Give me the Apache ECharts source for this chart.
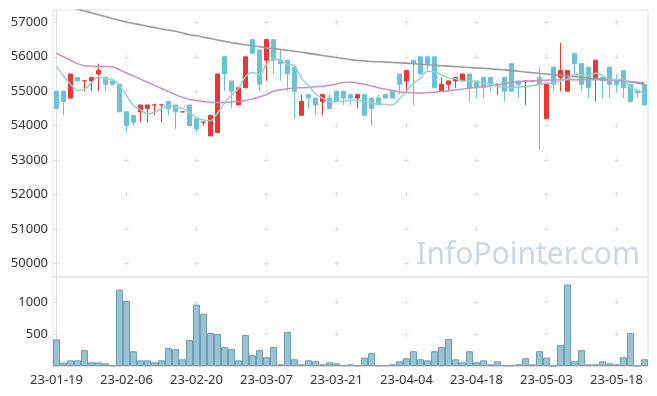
<!DOCTYPE html>
<html><head><meta charset="utf-8">
<script src="https://cdn.jsdelivr.net/npm/echarts@6/dist/echarts.min.js"></script>
<style>html,body{margin:0;padding:0;background:#fff}#c{width:657px;height:396px}</style>
</head><body><div id="c"></div><script>
const dates = ['23-01-19','23-01-20','23-01-25','23-01-26','23-01-27','23-01-30','23-01-31','23-02-01','23-02-02','23-02-03',
'23-02-06','23-02-07','23-02-08','23-02-09','23-02-10','23-02-13','23-02-14','23-02-15','23-02-16','23-02-17',
'23-02-20','23-02-21','23-02-22','23-02-23','23-02-24','23-02-27','23-02-28','23-03-02','23-03-03','23-03-06',
'23-03-07','23-03-08','23-03-09','23-03-10','23-03-13','23-03-14','23-03-15','23-03-16','23-03-17','23-03-20',
'23-03-21','23-03-22','23-03-23','23-03-24','23-03-27','23-03-28','23-03-29','23-03-30','23-03-31','23-04-03',
'23-04-04','23-04-05','23-04-06','23-04-07','23-04-10','23-04-11','23-04-12','23-04-13','23-04-14','23-04-17',
'23-04-18','23-04-19','23-04-20','23-04-21','23-04-24','23-04-25','23-04-26','23-04-27','23-04-28','23-05-02',
'23-05-03','23-05-04','23-05-08','23-05-09','23-05-10','23-05-11','23-05-12','23-05-15','23-05-16','23-05-17',
'23-05-18','23-05-19','23-05-22','23-05-23','23-05-24'];
const opens = [55000,55000,54800,55400,55300,55300,55500,55400,55300,55200,
54400,54300,54400,54500,54600,54600,54700,54600,54400,54600,
54200,54100,53700,53800,56000,55300,54600,55100,56500,56200,
55900,56500,55900,55900,55700,54300,54900,54800,54700,54800,
55000,55000,54900,54800,54900,54800,54800,54900,55000,55500,
55300,55900,56000,56000,56000,55000,55200,55300,55300,55500,
55300,55400,55400,55200,55400,55800,55300,55300,55300,55400,
54200,55700,55400,55000,56100,55800,55700,55400,55400,55700,
55300,55600,55200,55000,55200];
const closes = [54500,54700,55500,55300,55300,55400,55600,55200,55200,54400,
54000,54100,54600,54600,54600,54600,54500,54400,54400,54000,
53900,54100,54300,55500,55500,55000,55100,56000,56100,55200,
56500,55900,55800,55500,55000,54700,54800,54600,54900,54500,
54700,54800,54800,54900,54300,54500,54600,54800,54800,55200,
55600,55800,55500,55800,55100,55200,55300,55400,55500,55100,
55100,55100,55200,55200,55000,55000,55200,55300,55300,55200,
55200,55200,55600,55600,55800,55200,55100,55900,55300,55200,
55200,55100,54700,54950,54600];
const lows = [54500,54300,54800,55300,55000,55000,55000,55000,55200,54400,
53800,54000,54100,54100,54300,54100,54300,53900,54400,54000,
53800,54000,53700,53800,55000,54500,54600,55100,56100,55000,
55300,55500,55300,55000,54200,54300,54500,54300,54300,54500,
54700,54600,54600,54500,54300,54000,54600,54800,54800,54900,
55000,54600,55500,55600,55100,55000,55000,55100,55300,54700,
54800,54800,55000,54900,54700,55000,54800,54600,55300,53300,
54200,55000,55000,55000,55500,55000,54800,54700,54800,54800,
55000,54800,54700,54800,54600];
const highs = [55000,55000,55500,55400,55300,55400,55800,55400,55300,55200,
54400,54300,54600,54600,54600,54600,54700,54600,54400,54600,
54200,54100,54300,55500,56000,55300,55100,56000,56500,56200,
56500,56500,56200,55900,55700,54900,54900,54800,54900,54900,
55000,55000,54900,54900,54900,54800,54900,54900,55000,55500,
55600,55900,56000,56000,56000,55400,55300,55400,55500,55500,
55300,55400,55400,55200,55400,55800,55300,55300,55300,55700,
55200,55700,56400,55600,56100,55800,55700,55900,55400,55700,
55500,55600,55200,55000,55200];
const volumes = [416,53,89,89,247,58,58,42,10,1194,
1015,231,89,89,58,89,279,263,105,405,
957,815,515,500,295,263,89,484,168,247,
137,295,26,531,105,26,89,74,26,58,
42,10,26,10,131,200,10,10,26,74,
121,231,105,89,231,295,421,105,58,231,
58,89,26,74,10,10,26,121,26,231,
131,5,326,1273,74,247,26,26,74,42,
26,137,515,3,105];
const ma5 = [55720,55450,55200,55020,55060,55240,55420,55360,55340,55160,
54880,54580,54460,54340,54380,54500,54580,54540,54500,54380,
54240,54160,54140,54360,54660,54880,55080,55420,55540,55480,
55780,55940,55900,55780,55740,55380,55160,54920,54800,54700,
54700,54700,54740,54740,54700,54660,54620,54620,54600,54780,
55000,55240,55380,55580,55560,55480,55380,55360,55300,55300,
55280,55240,55200,55140,55120,55100,55120,55140,55160,55200,
55240,55240,55300,55360,55480,55480,55460,55520,55460,55340,
55340,55340,55100,55030,54910];
const ma20 = [56100,56000,55900,55800,55740,55730,55720,55720,55710,55620,
55530,55440,55350,55260,55170,55080,54990,54900,54820,54760,
54730,54700,54680,54670,54670,54690,54700,54730,54770,54840,
54900,55000,55040,55070,55090,55100,55110,55130,55140,55170,
55210,55250,55270,55240,55200,55150,55100,55060,55020,54980,
54960,54950,54950,54960,54970,54990,55010,55040,55060,55090,
55110,55140,55160,55180,55220,55250,55270,55290,55300,55310,
55320,55330,55330,55330,55330,55330,55330,55330,55330,55320,
55310,55300,55280,55260,55250];
const ma60 = [57540,57490,57440,57390,57330,57280,57220,57170,57110,57060,
57010,56970,56930,56890,56850,56810,56780,56740,56690,56640,
56610,56570,56530,56490,56450,56410,56380,56350,56320,56290,
56260,56240,56210,56190,56160,56130,56100,56070,56040,56010,
55980,55950,55920,55890,55880,55865,55855,55845,55835,55825,
55815,55800,55785,55770,55755,55740,55730,55715,55705,55690,
55675,55665,55650,55635,55620,55600,55580,55560,55535,55515,
55500,55480,55460,55445,55425,55405,55385,55365,55350,55340,
55330,55300,55270,55235,55200];

const candles = opens.map((o, i) => [o, closes[i], lows[i], highs[i]]);
const UP = '#ec3636', DOWN = '#6ac2d8';
const labelFont = {color: '#333', fontSize: 13, fontFamily: 'Noto Sans'};
const crossColor = '#dedede';
const plain = v => String(v);

const chart = echarts.init(document.getElementById('c'), null, {renderer: 'canvas'});
chart.setOption({
  animation: false,
  backgroundColor: '#fff',
  grid: [
    {left: 53, right: 9, top: 10, height: 267, show: true, borderColor: '#e3e3e3', borderWidth: 1, backgroundColor: 'transparent'},
    {left: 53, right: 9, top: 277, height: 89, show: true, borderColor: '#e3e3e3', borderWidth: 1, backgroundColor: 'transparent'}
  ],
  xAxis: [
    {type: 'category', gridIndex: 0, data: dates, boundaryGap: true,
     axisLine: {show: false}, axisTick: {show: false}, axisLabel: {show: false}, splitLine: {show: false}},
    {type: 'category', gridIndex: 1, data: dates, boundaryGap: true,
     axisLine: {show: true, lineStyle: {color: '#dcdcdc'}}, axisTick: {show: false},
     axisLabel: Object.assign({interval: 9, margin: 8}, labelFont), splitLine: {show: false}},
    {type: 'value', gridIndex: 0, position: 'top', min: -0.5, max: dates.length - 0.5, splitNumber: 8,
     axisLine: {show: false}, axisTick: {show: false}, axisLabel: {show: false},
     splitLine: {show: true, showMinLine: false, showMaxLine: false,
       lineStyle: {color: crossColor, width: 1, type: [5, 29.41], dashOffset: 24.5}}},
    {type: 'value', gridIndex: 1, position: 'top', min: -0.5, max: dates.length - 0.5, splitNumber: 8,
     axisLine: {show: false}, axisTick: {show: false}, axisLabel: {show: false},
     splitLine: {show: true, showMinLine: false, showMaxLine: false,
       lineStyle: {color: crossColor, width: 1, type: [5, 27.01], dashOffset: 9.5}}}
  ],
  yAxis: [
    {type: 'value', gridIndex: 0, min: 49600, max: 57360, splitNumber: 8, scale: true,
     axisLine: {show: true, lineStyle: {color: '#dcdcdc'}}, axisTick: {show: false},
     axisLabel: Object.assign({margin: 5, showMinLabel: false, showMaxLabel: false, formatter: plain}, labelFont),
     splitLine: {show: true, showMinLine: false, showMaxLine: false,
       lineStyle: {color: crossColor, width: 1, type: [5, 65], dashOffset: 69}}},
    {type: 'value', gridIndex: 1, min: 0, max: 1390, interval: 500,
     axisLine: {show: true, lineStyle: {color: '#dcdcdc'}}, axisTick: {show: false},
     axisLabel: Object.assign({margin: 5, showMinLabel: false, showMaxLabel: false, formatter: plain}, labelFont),
     splitLine: {show: true, showMinLine: false, showMaxLine: false,
       lineStyle: {color: crossColor, width: 1, type: [5, 65], dashOffset: 69}}}
  ],
  graphic: [
    {type: 'text', right: 17, top: 240, z: 0, silent: true,
     style: {text: 'InfoPointer.com', fill: '#c8d9e4', fontSize: 30, fontFamily: 'Noto Sans'}}
  ],
  series: [
    {type: 'candlestick', xAxisIndex: 0, yAxisIndex: 0, data: candles, barWidth: 5,
     itemStyle: {color: UP, color0: DOWN, borderColor: UP, borderColor0: DOWN, borderWidth: 1}},
    {type: 'line', xAxisIndex: 0, yAxisIndex: 0, data: ma60, showSymbol: false, smooth: 0.3,
     lineStyle: {color: '#9b9b9b', width: 1.6}},
    {type: 'line', xAxisIndex: 0, yAxisIndex: 0, data: ma20, showSymbol: false, smooth: 0.3,
     lineStyle: {color: '#cd8dc7', width: 1.5}},
    {type: 'line', xAxisIndex: 0, yAxisIndex: 0, data: ma5, showSymbol: false, smooth: 0.3,
     lineStyle: {color: '#93d3c7', width: 1.5}},
    {type: 'bar', xAxisIndex: 1, yAxisIndex: 1, data: volumes, barWidth: '100%',
     itemStyle: {color: '#9bc2d3', borderColor: '#6c9db6', borderWidth: 1}}
  ]
});
</script></body></html>
